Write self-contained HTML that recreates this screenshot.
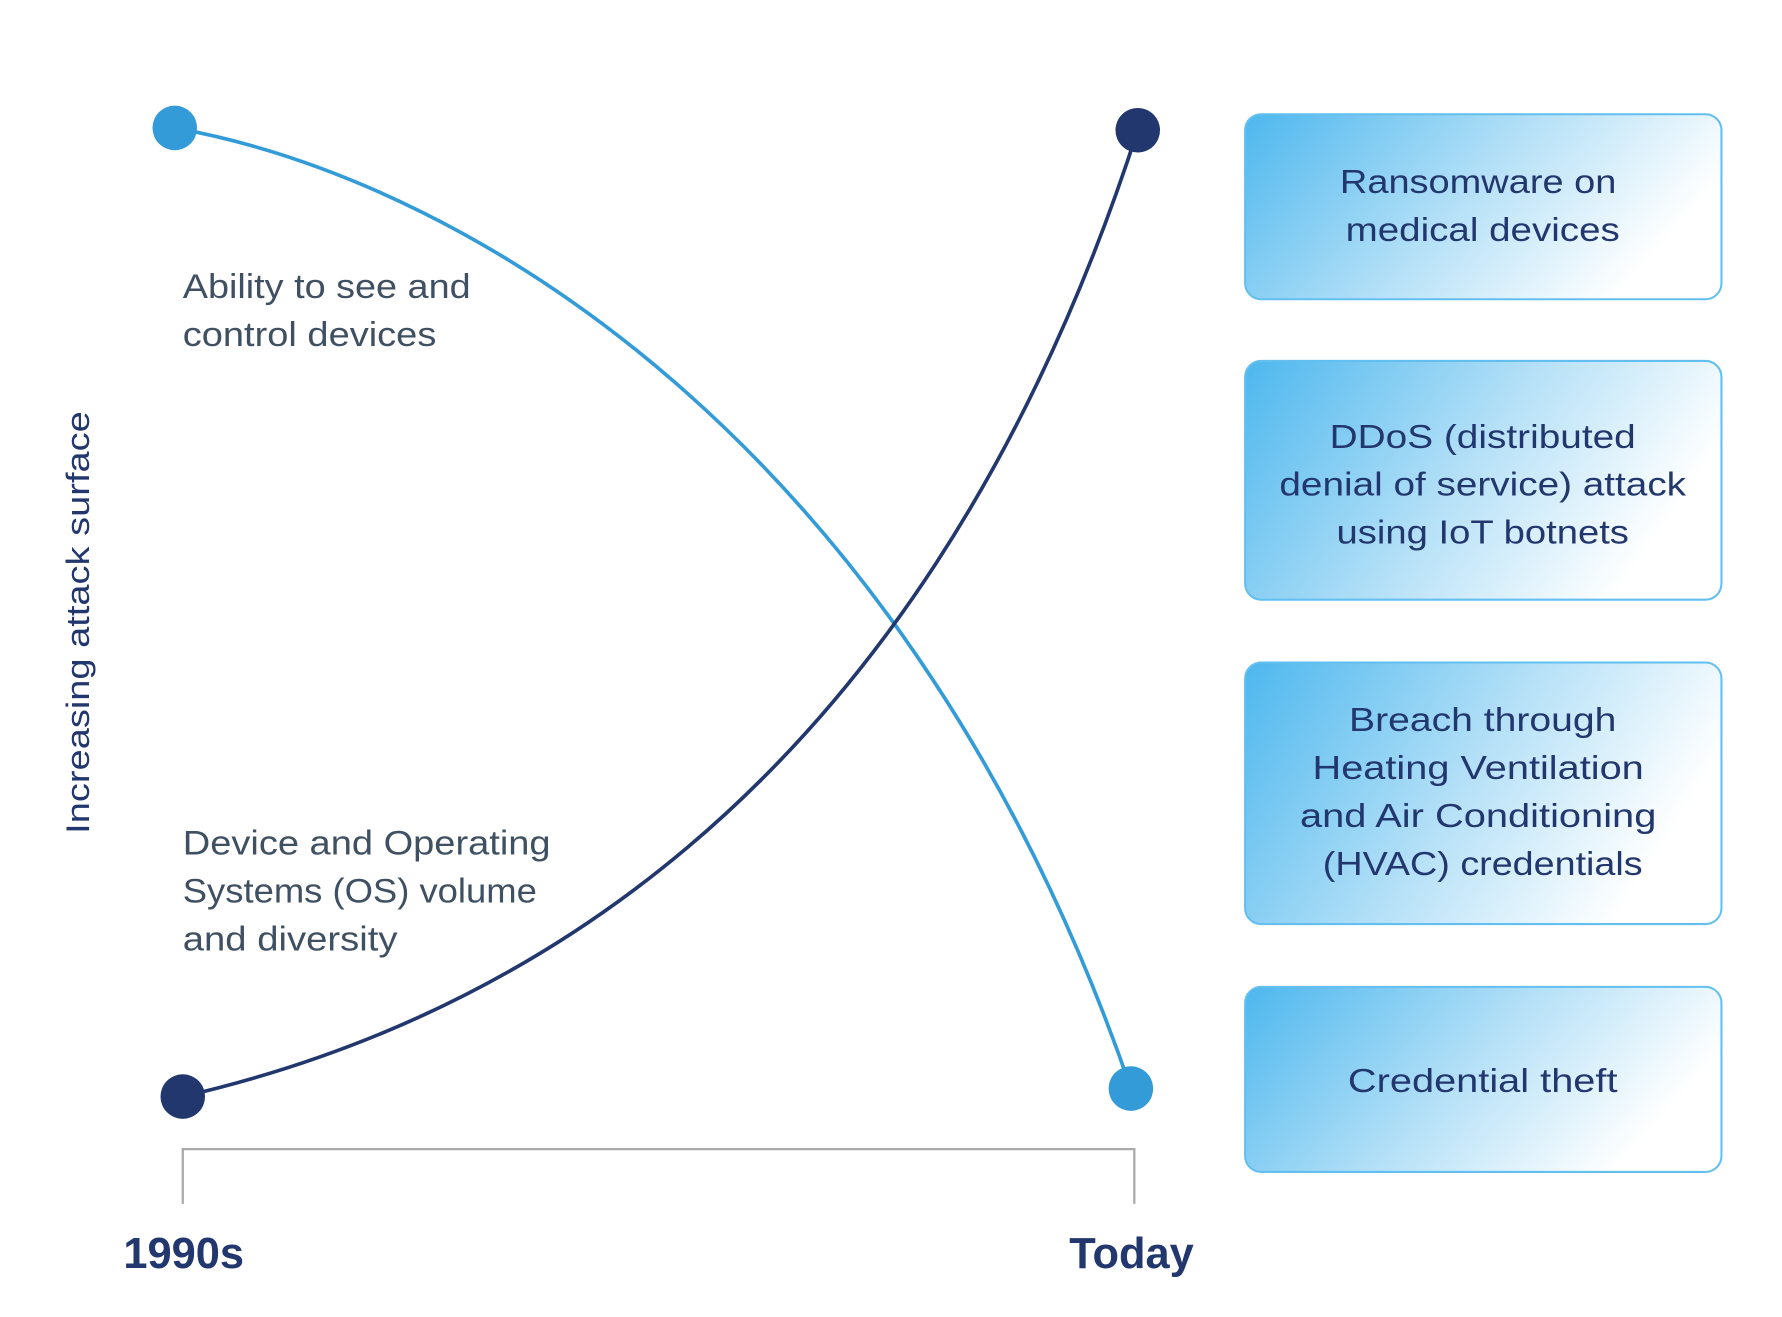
<!DOCTYPE html>
<html><head><meta charset="utf-8"><style>html,body{margin:0;padding:0;background:#fff}svg{display:block}</style></head>
<body>
<svg width="1782" height="1317" viewBox="0 0 1560 1153" preserveAspectRatio="none" xmlns="http://www.w3.org/2000/svg">
<defs>
<linearGradient id="g" x1="0" y1="0" x2="1" y2="0.35">
<stop offset="0" stop-color="#4db7ee"/>
<stop offset="0.55" stop-color="#b4e0f7"/>
<stop offset="1" stop-color="#ffffff"/>
</linearGradient>
</defs>
<rect width="1560" height="1153" fill="#fff"/>
<path d="M153,112 C420,160 800,400 990,953" fill="none" stroke="#339bd8" stroke-width="3.2"/>
<path d="M160,960 C420,900 800,720 996,114" fill="none" stroke="#22376d" stroke-width="3.2"/>
<circle cx="153" cy="112" r="19.5" fill="#339bd8"/>
<circle cx="996" cy="114" r="19.5" fill="#22376d"/>
<circle cx="160" cy="960" r="19.5" fill="#22376d"/>
<circle cx="990" cy="953" r="19.5" fill="#339bd8"/>
<path d="M160,1054 V1006 H993 V1054" fill="none" stroke="#aaaaaa" stroke-width="2"/>
<g font-family="Liberation Sans, sans-serif">
<text x="108" y="1110" font-size="38" font-weight="bold" fill="#22376d">1990s</text>
<text x="936" y="1110" font-size="38" font-weight="bold" fill="#22376d">Today</text>
<text transform="translate(78,545) rotate(-90)" text-anchor="middle" font-size="28" fill="#22376d" textLength="370" lengthAdjust="spacingAndGlyphs">Increasing attack surface</text>
<g font-size="30" fill="#3f5062">
<text x="160" y="261" textLength="252" lengthAdjust="spacingAndGlyphs">Ability to see and</text>
<text x="160" y="303" textLength="222" lengthAdjust="spacingAndGlyphs">control devices</text>
<text x="160" y="748" textLength="322" lengthAdjust="spacingAndGlyphs">Device and Operating</text>
<text x="160" y="790" textLength="310" lengthAdjust="spacingAndGlyphs">Systems (OS) volume</text>
<text x="160" y="832" textLength="188" lengthAdjust="spacingAndGlyphs">and diversity</text>
</g>
<g stroke="#62bff0" stroke-width="1.8" fill="url(#g)">
<rect x="1090" y="100" width="417" height="162" rx="14"/>
<rect x="1090" y="316" width="417" height="209" rx="14"/>
<rect x="1090" y="580" width="417" height="229" rx="14"/>
<rect x="1090" y="864" width="417" height="162" rx="14"/>
</g>
<g font-size="29" fill="#22376d" text-anchor="middle" lengthAdjust="spacingAndGlyphs">
<text x="1294" y="169" textLength="242" lengthAdjust="spacingAndGlyphs">Ransomware on</text>
<text x="1298" y="211" textLength="240" lengthAdjust="spacingAndGlyphs">medical devices</text>
<text x="1298" y="392" textLength="268" lengthAdjust="spacingAndGlyphs">DDoS (distributed</text>
<text x="1298" y="434" textLength="356" lengthAdjust="spacingAndGlyphs">denial of service) attack</text>
<text x="1298" y="476" textLength="256" lengthAdjust="spacingAndGlyphs">using IoT botnets</text>
<text x="1298" y="640" textLength="234" lengthAdjust="spacingAndGlyphs">Breach through</text>
<text x="1294" y="682" textLength="290" lengthAdjust="spacingAndGlyphs">Heating Ventilation</text>
<text x="1294" y="724" textLength="312" lengthAdjust="spacingAndGlyphs">and Air Conditioning</text>
<text x="1298" y="766" textLength="280" lengthAdjust="spacingAndGlyphs">(HVAC) credentials</text>
<text x="1298" y="956" textLength="236" lengthAdjust="spacingAndGlyphs">Credential theft</text>
</g>
</g>
</svg>
</body></html>
